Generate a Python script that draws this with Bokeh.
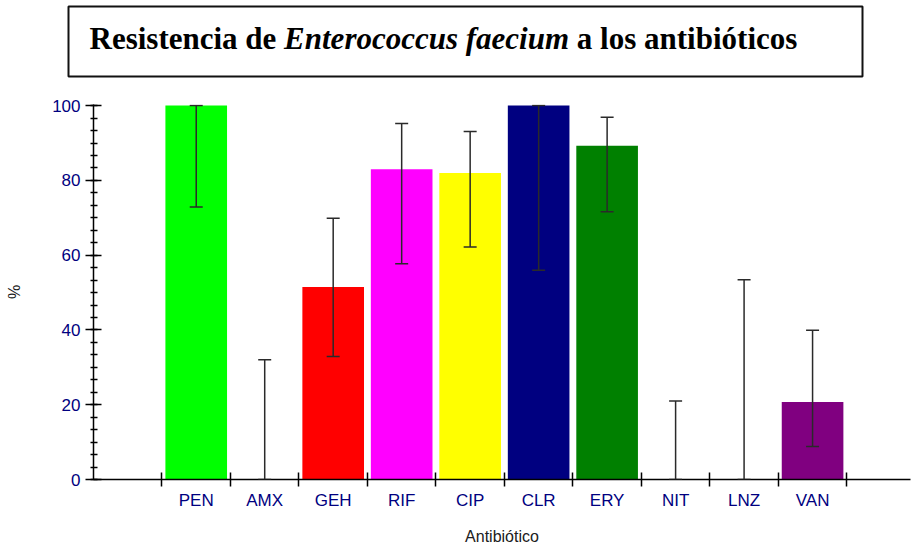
import numpy as np
from bokeh.plotting import figure
from bokeh.models import (ColumnDataSource, Range1d, FixedTicker, Whisker, TeeHead,
                          Label, BoxAnnotation)
from bokeh.embed import file_html
from bokeh.resources import INLINE

# ---- data ----
antibiotics = ["PEN", "AMX", "GEH", "RIF", "CIP", "CLR", "ERY", "NIT", "LNZ", "VAN"]
resistance = [100, 0, 51.5, 83, 82, 100, 89.3, 0, 0, 20.7]
ci_lower = [72.9, 0, 32.9, 57.7, 62.2, 56, 71.6, 0, 0, 8.8]
ci_upper = [100, 32, 69.9, 95.2, 93.1, 100, 96.9, 21, 53.4, 39.9]
bar_colors = ["#00FF00", "#FFFFFF", "#FF0000", "#FF00FF", "#FFFF00",
              "#000080", "#008000", "#FFFFFF", "#FFFFFF", "#800080"]
y_ticks = [0, 20, 40, 60, 80, 100]
title_parts = ["Resistencia de", "Enterococcus faecium", "a los antibióticos"]
title_styles = ["bold", "bold italic", "bold"]

idx = np.arange(len(antibiotics))
centers = (idx + 1.5).tolist()
bounds = (np.arange(len(antibiotics) + 1) + 1.0).tolist()

src = ColumnDataSource(dict(x=centers, top=resistance, lower=ci_lower,
                            upper=ci_upper, color=bar_colors))

# ---------------- title strip (separate root) ----------------
TH = 90
tp = figure(width=912, height=TH, output_backend="svg", toolbar_location=None,
            x_range=Range1d(0, 912), y_range=Range1d(TH, 0),
            x_axis_type=None, y_axis_type=None,
            min_border=0, min_border_left=0, min_border_right=0,
            min_border_top=0, min_border_bottom=0)
tp.outline_line_color = None
tp.xgrid.grid_line_color = None
tp.ygrid.grid_line_color = None

tp.add_layout(BoxAnnotation(left=68, right=862, top=6, bottom=76,
                            fill_color=None, fill_alpha=0, line_color="#111111",
                            line_alpha=1, line_width=2))

fs_px = 31
# advance widths (em) of the runs incl. the following space (Times-metric bold / bold italic)
run_em = [6.277, 9.194 + 0.25, 7.112]
x0 = 89
for part, style, off in zip(title_parts, title_styles, np.cumsum([0] + run_em[:-1])):
    tp.add_layout(Label(x=x0 + off * fs_px, y=38, text=part,
                        text_font="Liberation Serif", text_font_style=style,
                        text_font_size=f"{fs_px}px", text_color="black",
                        text_baseline="alphabetic"))

# ---------------- chart ----------------
p = figure(width=912, height=547 - TH, output_backend="svg", toolbar_location=None,
           x_range=Range1d(0, 11.93), y_range=Range1d(0, 100.3),
           min_border_left=93, min_border_right=2, min_border_top=104 - TH,
           min_border_bottom=68)
p.outline_line_color = None
p.xgrid.grid_line_color = None
p.ygrid.grid_line_color = None

p.vbar(x="x", top="top", bottom=0, width=0.9, color="color", line_color=None, source=src)

err_col = "#2a2a2a"
w = Whisker(source=src, base="x", upper="upper", lower="lower",
            line_color=err_col, line_width=1.5, level="overlay",
            upper_head=TeeHead(size=13, line_color=err_col, line_width=1.5),
            lower_head=TeeHead(size=13, line_color=err_col, line_width=1.5))
p.add_layout(w)

# x axis
xa = p.xaxis[0]
xa.ticker = FixedTicker(ticks=centers, minor_ticks=bounds)
xa.major_label_overrides = {c: n for c, n in zip(centers, antibiotics)}
xa.major_tick_in = 0
xa.major_tick_out = 0
xa.minor_tick_in = 7
xa.minor_tick_out = 7
xa.minor_tick_line_color = "black"
xa.minor_tick_line_width = 1.5
xa.axis_line_width = 1.5
xa.major_label_text_font = "Liberation Sans"
xa.major_label_text_font_size = "17px"
xa.major_label_text_color = "#000080"
xa.major_label_standoff = 4
xa.axis_label = "Antibiótico"
xa.axis_label_text_font = "Liberation Sans"
xa.axis_label_text_font_style = "normal"
xa.axis_label_text_font_size = "16px"
xa.axis_label_text_color = "#202020"
xa.axis_label_standoff = 15

# y axis
ya = p.yaxis[0]
ya.ticker = FixedTicker(ticks=y_ticks, minor_ticks=np.arange(0, 100.01, 20 / 6).tolist())
ya.major_tick_in = 8
ya.major_tick_out = 8
ya.minor_tick_in = 4
ya.minor_tick_out = 3
ya.major_tick_line_width = 1.5
ya.minor_tick_line_width = 1.5
ya.minor_tick_line_color = "black"
ya.axis_line_width = 1.5
ya.major_label_text_font = "Liberation Sans"
ya.major_label_text_font_size = "17px"
ya.major_label_text_color = "#000080"
ya.major_label_standoff = 5
ya.axis_label = "%"
ya.axis_label_text_font = "Liberation Sans"
ya.axis_label_text_font_style = "normal"
ya.axis_label_text_font_size = "16px"
ya.axis_label_text_color = "#202020"
ya.axis_label_standoff = 26

open("out.html", "w").write(file_html([tp, p], INLINE))
